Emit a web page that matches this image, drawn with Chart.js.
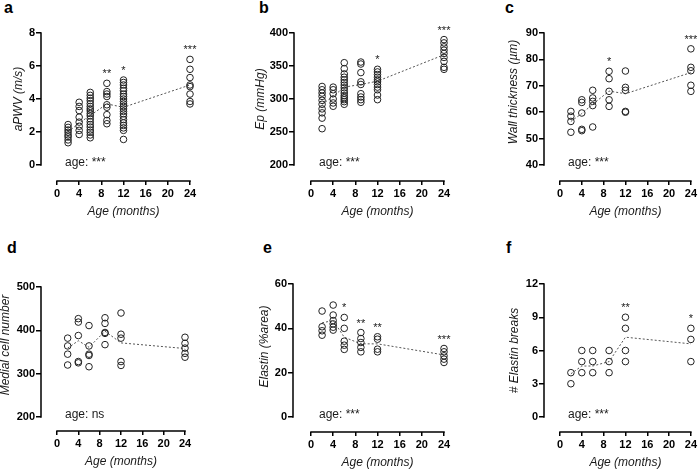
<!DOCTYPE html>
<html>
<head>
<meta charset="utf-8">
<script src="https://cdn.jsdelivr.net/npm/chart.js@4.4.1/dist/chart.umd.min.js"></script>
<style>
  body { margin: 0; background: #fff; width: 699px; height: 471px; position: relative; overflow: hidden; font-family: 'Liberation Sans', Arial, sans-serif; }
  canvas { position: absolute; display: block; }
  .letter { position: absolute; font-weight: bold; font-size: 16px; line-height: 16px; color: #000; }
</style>
</head>
<body>
<div class="letter" style="left:4px;top:0px">a</div>
<div class="letter" style="left:259px;top:0px">b</div>
<div class="letter" style="left:505px;top:0px">c</div>
<div class="letter" style="left:7px;top:240px">d</div>
<div class="letter" style="left:263px;top:240px">e</div>
<div class="letter" style="left:506px;top:240px">f</div>
<canvas id="ca" width="233" height="235" style="left:0;top:0"></canvas>
<canvas id="cb" width="233" height="235" style="left:233px;top:0"></canvas>
<canvas id="cc" width="233" height="235" style="left:466px;top:0"></canvas>
<canvas id="cd" width="233" height="236" style="left:0;top:235px"></canvas>
<canvas id="ce" width="233" height="236" style="left:233px;top:235px"></canvas>
<canvas id="cf" width="233" height="236" style="left:466px;top:235px"></canvas>
<script>
const fam = "'Liberation Sans', Arial, Helvetica, sans-serif";

// age groups (months) and x axis ticks
const ages = [2, 4, 6, 9, 12, 24];
const xTicks = [0, 4, 8, 12, 16, 20, 24];

// a: aortic PWV
const pwvTicks = [0, 2, 4, 6, 8];
const pwvValues = [
  [2.45, 2.28, 2.12, 1.98, 1.82, 1.7, 1.52, 1.35],
  [3.8, 3.55, 3.3, 2.9, 2.6, 2.35, 2.1, 1.85],
  [4.4, 4.22, 4.05, 3.9, 3.72, 3.55, 3.4, 3.28, 3.12, 2.98, 2.8, 2.62, 2.45, 2.3, 2.12, 1.98, 1.82, 1.65],
  [4.95, 4.45, 4.3, 4.15, 3.65, 3.5, 3.05, 2.7, 2.5],
  [5.15, 5.0, 4.85, 4.65, 4.5, 4.3, 4.15, 4.0, 3.85, 3.7, 3.55, 3.4, 3.25, 3.1, 2.95, 2.75, 2.55, 2.4, 2.25, 2.1, 1.55],
  [6.4, 5.8, 5.3, 4.85, 4.75, 4.3, 3.85, 3.7]
];
const pwvMeans = [2.0, 2.55, 3.0, 3.7, 3.5, 4.85];
const pwvStars = ['', '', '', '**', '*', '***'];

// b: Ep
const epTicks = [200, 250, 300, 350, 400];
const epValues = [
  [319, 314, 309, 304, 298, 292, 285, 279, 271, 255],
  [318, 314, 308, 300, 294, 289],
  [355, 346, 338, 333, 329, 325, 321, 317, 313, 309, 305, 302, 299, 296, 292],
  [356, 353, 340, 326, 322, 308, 303, 299, 295],
  [345, 341, 337, 333, 329, 326, 322, 318, 314, 306, 299],
  [390, 385, 379, 374, 369, 363, 357, 348, 345]
];
const epMeans = [292, 304, 318, 322, 327, 367];
const epStars = ['', '', '', '', '*', '***'];

// c: wall thickness
const wallTicks = [40, 50, 60, 70, 80, 90];
const wallValues = [
  [60.3, 58.5, 56.5, 52.4],
  [64.7, 63.7, 59.7, 53.5, 53.0],
  [68.3, 65.4, 64.1, 62.5, 54.4],
  [75.5, 72.7, 67.9, 64.7, 62.2],
  [75.6, 69.4, 68.3, 60.3, 60.0],
  [84, 77, 75.7, 70.2, 67.9]
];
const wallMeans = [56.5, 59.5, 63, 68, 67, 75];
const wallStars = ['', '', '', '*', '', '***'];

// d: medial cell number
const cellTicks = [200, 300, 400, 500];
const cellValues = [
  [382, 364, 345, 320],
  [427, 419, 388, 328, 325],
  [411, 364, 345, 342, 316],
  [429, 416, 395, 393, 367],
  [440, 391, 382, 328, 319],
  [384, 370, 359, 347, 338]
];
const cellMeans = [359, 376, 361, 398, 371, 358];
const cellStars = ['', '', '', '', '', ''];

// e: elastin
const elaTicks = [0, 20, 40, 60];
const elaValues = [
  [47.8, 40.7, 38.9, 36.9],
  [50.5, 46, 43.5, 42, 40.5, 39.2],
  [44.9, 40, 34.2, 32.4, 30.5],
  [38.1, 35.4, 33.6, 31.4, 29.4],
  [36.2, 35.1, 30.6, 29.4],
  [30.9, 29.4, 27.6, 26.1, 24.6]
];
const elaMeans = [42.5, 43.5, 36, 33, 33, 28];
const elaStars = ['', '', '*', '**', '**', '***'];

// f: elastin breaks
const brkTicks = [0, 3, 6, 9, 12];
const brkValues = [
  [3, 4],
  [4, 5, 6],
  [4, 5, 6],
  [4, 5, 6],
  [5, 6, 8, 9],
  [5, 7, 8]
];
const brkMeans = [3.9, 4.6, 4.6, 5.0, 7.2, 6.6];
const brkStars = ['', '', '', '', '**', '*'];

const panels = [
  { id: 'ca', yTitle: 'aPWV (m/s)', values: pwvValues, means: pwvMeans, stars: pwvStars, yTicks: pwvTicks, ageText: 'age: ***',
    box: { h: 235, axisX: 41, axisY: 181, right: 190, plotTop: 33, gapX: 16, gapY: 16, titleX: 19, shift: 0 } },
  { id: 'cb', yTitle: 'Ep (mmHg)', values: epValues, means: epMeans, stars: epStars, yTicks: epTicks, ageText: 'age: ***',
    box: { h: 235, axisX: 61, axisY: 181, right: 211, plotTop: 33, gapX: 17, gapY: 16, titleX: 27.5, shift: 0 } },
  { id: 'cc', yTitle: 'Wall thickness (\u00b5m)', values: wallValues, means: wallMeans, stars: wallStars, yTicks: wallTicks, ageText: 'age: ***',
    box: { h: 235, axisX: 78, axisY: 181, right: 225, plotTop: 33, gapX: 16, gapY: 16, titleX: 47.5, shift: -7 } },
  { id: 'cd', yTitle: 'Medial cell number', values: cellValues, means: cellMeans, stars: cellStars, yTicks: cellTicks, ageText: 'age: ns',
    box: { h: 236, axisX: 41, axisY: 196, right: 185, plotTop: 52, gapX: 16, gapY: 14, titleX: 6, shift: -7 } },
  { id: 'ce', yTitle: 'Elastin (%area)', values: elaValues, means: elaMeans, stars: elaStars, yTicks: elaTicks, ageText: 'age: ***',
    box: { h: 236, axisX: 60, axisY: 197, right: 211, plotTop: 49, gapX: 18, gapY: 15, titleX: 32, shift: -4 } },
  { id: 'cf', yTitle: '# Elastin breaks', values: brkValues, means: brkMeans, stars: brkStars, yTicks: brkTicks, ageText: 'age: ***',
    box: { h: 236, axisX: 78, axisY: 197, right: 225, plotTop: 49, gapX: 16, gapY: 15, titleX: 49, shift: 0 } }
];

// prism-style detached axes, titles and significance marks
function decor(p) {
  return {
    id: 'decor',
    afterDraw(chart) {
      const { ctx, scales: { x, y } } = chart;
      const yLo = p.yTicks[0], yHi = p.yTicks[p.yTicks.length - 1];
      const xl = x.getPixelForValue(0), xr = x.getPixelForValue(24);
      const yb = y.getPixelForValue(yLo), yt = y.getPixelForValue(yHi);
      ctx.save();
      ctx.strokeStyle = '#000';
      ctx.lineWidth = 1.5;
      ctx.beginPath();
      ctx.moveTo(y.right, yb + 0.75);
      ctx.lineTo(y.right, yt - 0.75);
      ctx.moveTo(xl - 0.75, x.top);
      ctx.lineTo(xr + 0.75, x.top);
      ctx.stroke();

      ctx.fillStyle = '#1a1a1a';
      ctx.textAlign = 'center';
      ctx.textBaseline = 'middle';
      ctx.font = 'italic 12px ' + fam;
      ctx.fillText('Age (months)', (xl + xr) / 2, x.top + 31);
      ctx.save();
      ctx.translate(p.box.titleX, (yb + yt) / 2 + p.box.shift);
      ctx.rotate(-Math.PI / 2);
      ctx.fillText(p.yTitle, 0, 0);
      ctx.restore();

      ctx.font = '11px ' + fam;
      ctx.textBaseline = 'alphabetic';
      p.stars.forEach((s, i) => {
        if (!s) return;
        const top = Math.max(...p.values[i]);
        ctx.fillText(s, x.getPixelForValue(ages[i]), y.getPixelForValue(top) - 6);
      });

      ctx.font = '12px ' + fam;
      ctx.textAlign = 'left';
      ctx.textBaseline = 'middle';
      ctx.fillText(p.ageText, xl + 8, yb - 2);
      ctx.restore();
    }
  };
}

panels.forEach(p => {
  const b = p.box;
  const yLo = p.yTicks[0], yHi = p.yTicks[p.yTicks.length - 1];
  const plotW = b.right - b.axisX, plotH = b.axisY - b.plotTop;
  const xMin = -24 * b.gapX / (plotW - b.gapX);
  const yMin = yLo - (yHi - yLo) * b.gapY / (plotH - b.gapY);

  const pts = [];
  p.values.forEach((col, i) => col.forEach(v => pts.push({ x: ages[i], y: v })));
  const meanLine = ages.map((a, i) => ({ x: a, y: p.means[i] }));

  new Chart(document.getElementById(p.id), {
    type: 'scatter',
    data: {
      datasets: [
        {
          type: 'scatter',
          data: pts,
          pointRadius: 3.3,
          pointHoverRadius: 3.3,
          pointBorderWidth: 1,
          pointBorderColor: '#222',
          pointBackgroundColor: 'rgba(0,0,0,0)',
          clip: false,
        },
        {
          type: 'line',
          data: meanLine,
          borderColor: '#555',
          borderWidth: 1,
          borderDash: [2, 2],
          pointRadius: 0,
          fill: false,
          tension: 0,
          clip: false,
        },
      ],
    },
    options: {
      responsive: false,
      animation: false,
      events: [],
      layout: { padding: { left: 0, top: b.plotTop, right: 233 - b.right, bottom: 0 } },
      plugins: { legend: { display: false }, tooltip: { enabled: false } },
      scales: {
        x: {
          type: 'linear',
          min: xMin,
          max: 24,
          afterBuildTicks: s => { s.ticks = xTicks.map(v => ({ value: v })); },
          afterFit: s => { s.height = b.h - b.axisY; },
          border: { display: false },
          grid: { drawOnChartArea: false, drawTicks: true, tickLength: 4, color: '#000', lineWidth: 1.5 },
          ticks: { color: '#000', font: { size: 11, weight: 'bold', family: fam }, padding: 2, maxRotation: 0, autoSkip: false, callback: v => v },
        },
        y: {
          type: 'linear',
          min: yMin,
          max: yHi,
          afterBuildTicks: s => { s.ticks = p.yTicks.map(v => ({ value: v })); },
          afterFit: s => { s.width = b.axisX; },
          border: { display: false },
          grid: { drawOnChartArea: false, drawTicks: true, tickLength: 5, color: '#000', lineWidth: 1.5 },
          ticks: { color: '#000', font: { size: 11, weight: 'bold', family: fam }, padding: 1, autoSkip: false, callback: v => v },
        },
      },
    },
    plugins: [decor(p)],
  });
});
</script>
</body>
</html>
